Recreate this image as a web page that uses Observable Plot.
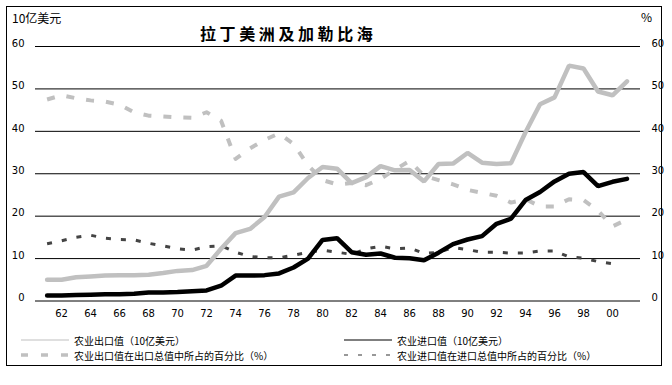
<!DOCTYPE html>
<html>
<head>
<meta charset="utf-8">
<script src="https://cdn.jsdelivr.net/npm/d3@7"></script>
<script src="https://cdn.jsdelivr.net/npm/@observablehq/plot@0.6"></script>
<style>
  body { margin: 0; background: #fff; }
  #wrap { position: relative; width: 672px; height: 385px; overflow: hidden; font-family: "Noto Sans CJK SC", "DejaVu Sans", sans-serif; }
  #frame { position: absolute; left: 6px; top: 6px; width: 656px; height: 360px; border: 1.5px solid #000; box-sizing: border-box; }
  #chart { position: absolute; left: 0; top: 0; }
  .abs { position: absolute; white-space: nowrap; color: #000; }
  .leg { position: absolute; display: flex; align-items: center; font-size: 10px; height: 14px; white-space: nowrap; }
  .leg svg { margin-right: 4px; }
</style>
</head>
<body>
<div id="wrap">
  <div id="frame"></div>
  <div id="chart"></div>
  <div class="abs" style="left:12px;top:9px;font-size:12px;">10亿美元</div>
  <div class="abs" style="left:641px;top:8px;font-size:12px;">%</div>
  <div class="abs" style="left:200px;top:21px;font-size:16px;font-weight:bold;letter-spacing:3.6px;">拉丁美洲及加勒比海</div>
  <div id="legend"></div>
</div>
<script>
const years = [1961,1962,1963,1964,1965,1966,1967,1968,1969,1970,
  1971,1972,1973,1974,1975,1976,1977,1978,1979,1980,
  1981,1982,1983,1984,1985,1986,1987,1988,1989,1990,
  1991,1992,1993,1994,1995,1996,1997,1998,1999,2000,2001];

// 农业出口值（10亿美元）
const exportValue = [5.0,5.0,5.6,5.8,6.0,6.1,6.1,6.2,6.6,7.1,
  7.3,8.3,12.3,16.0,17.0,19.8,24.6,25.6,29.0,31.6,
  31.2,27.8,29.2,31.8,30.8,30.9,28.2,32.3,32.4,34.9,
  32.6,32.3,32.5,39.8,46.4,48.0,55.5,54.8,49.4,48.5,51.8];

// 农业进口值（10亿美元）
const importValue = [1.3,1.3,1.4,1.5,1.6,1.6,1.7,2.0,2.0,2.1,
  2.3,2.5,3.6,6.0,6.0,6.1,6.5,7.9,10.0,14.4,
  14.8,11.5,10.9,11.2,10.2,10.1,9.6,11.4,13.4,14.5,
  15.3,18.2,19.4,23.8,25.7,28.2,30.0,30.4,27.1,28.1,28.8];

// 农业出口值在出口总值中所占的百分比（%）
const exportShare = [47.5,48.5,47.8,47.3,47.0,46.3,44.5,43.7,43.5,43.3,
  43.2,44.5,42.5,33.5,36.0,38.0,39.5,37.0,32.0,28.5,
  27.5,27.8,27.3,28.8,31.0,33.0,29.5,28.5,27.5,26.2,
  25.5,24.8,23.2,24.0,22.3,22.3,24.0,23.8,21.3,17.6,19.2];

// 农业进口值在进口总值中所占的百分比（%）
const importShare = [13.5,14.2,15.0,15.5,14.8,14.5,14.4,13.6,13.0,12.3,
  12.0,12.8,13.0,11.5,10.5,10.2,10.2,10.8,11.5,12.0,
  11.5,11.0,12.3,12.9,12.3,12.5,11.2,11.5,12.6,12.1,
  11.5,11.5,11.3,11.3,11.8,11.8,10.4,10.1,9.3,8.8];

const yTicks = [0,10,20,30,40,50,60];
const xTicks = [1962,1964,1966,1968,1970,1972,1974,1976,1978,1980,
  1982,1984,1986,1988,1990,1992,1994,1996,1998,2000];
const xTickLabels = ["62","64","66","68","70","72","74","76","78","80",
  "82","84","86","88","90","92","94","96","98","00"];

const legendItems = [
  {label: "农业出口值（10亿美元）", stroke: "#c0c0c0", width: 1.2, dash: null},
  {label: "农业进口值（10亿美元）", stroke: "#000", width: 1.2, dash: null},
  {label: "农业出口值在出口总值中所占的百分比（%）", stroke: "#c0c0c0", width: 3.5, dash: "7,13"},
  {label: "农业进口值在进口总值中所占的百分比（%）", stroke: "#333", width: 1.2, dash: "4,10"}
];

const rows = (vals) => years.slice(0, vals.length).map((y, i) => ({year: y, v: vals[i]}));

const chart = Plot.plot({
  width: 672,
  height: 385,
  marginTop: 46,
  marginBottom: 84.5,
  marginLeft: 35,
  marginRight: 32,
  style: {fontFamily: "DejaVu Sans, sans-serif", fontSize: "10px", background: "transparent"},
  x: {domain: [1960.2, 2001.93]},
  y: {domain: [0, 60]},
  marks: [
    Plot.ruleY(yTicks, {stroke: "#000", strokeWidth: 1, strokeOpacity: 1}),
    Plot.axisY(yTicks, {anchor: "left", tickSize: 0, tickPadding: 11, dy: -3, label: null, fontSize: 10}),
    Plot.axisY(yTicks, {anchor: "right", tickSize: 0, tickPadding: 11, dy: -3, label: null, fontSize: 10}),
    Plot.axisX(xTicks, {anchor: "bottom", tickSize: 0, tickPadding: 9, label: null, fontSize: 10,
      tickFormat: (d) => xTickLabels[xTicks.indexOf(d)]}),
    Plot.line(rows(exportShare), {x: "year", y: "v", stroke: "#c0c0c0", strokeWidth: 4, strokeDasharray: "8,12", strokeLinecap: "butt"}),
    Plot.line(rows(importShare), {x: "year", y: "v", stroke: "#444", strokeWidth: 3, strokeDasharray: "5,10", strokeLinecap: "butt"}),
    Plot.line(rows(exportValue), {x: "year", y: "v", stroke: "#c0c0c0", strokeWidth: 4.5, strokeLinejoin: "miter"}),
    Plot.line(rows(importValue), {x: "year", y: "v", stroke: "#000", strokeWidth: 4.5, strokeLinejoin: "miter"})
  ]
});
document.getElementById("chart").appendChild(chart);

const legend = document.getElementById("legend");
const pos = [[20, 333], [343, 333], [20, 348], [343, 348]];
legendItems.forEach((it, i) => {
  const d = document.createElement("div");
  d.className = "leg";
  d.style.left = pos[i][0] + "px";
  d.style.top = pos[i][1] + "px";
  d.innerHTML = `<svg width="50" height="8"><line x1="1" x2="49" y1="4" y2="4" stroke="${it.stroke}" stroke-width="${it.width}" ${it.dash ? `stroke-dasharray="${it.dash}"` : ""}/></svg><span>${it.label}</span>`;
  legend.appendChild(d);
});
</script>
</body>
</html>
